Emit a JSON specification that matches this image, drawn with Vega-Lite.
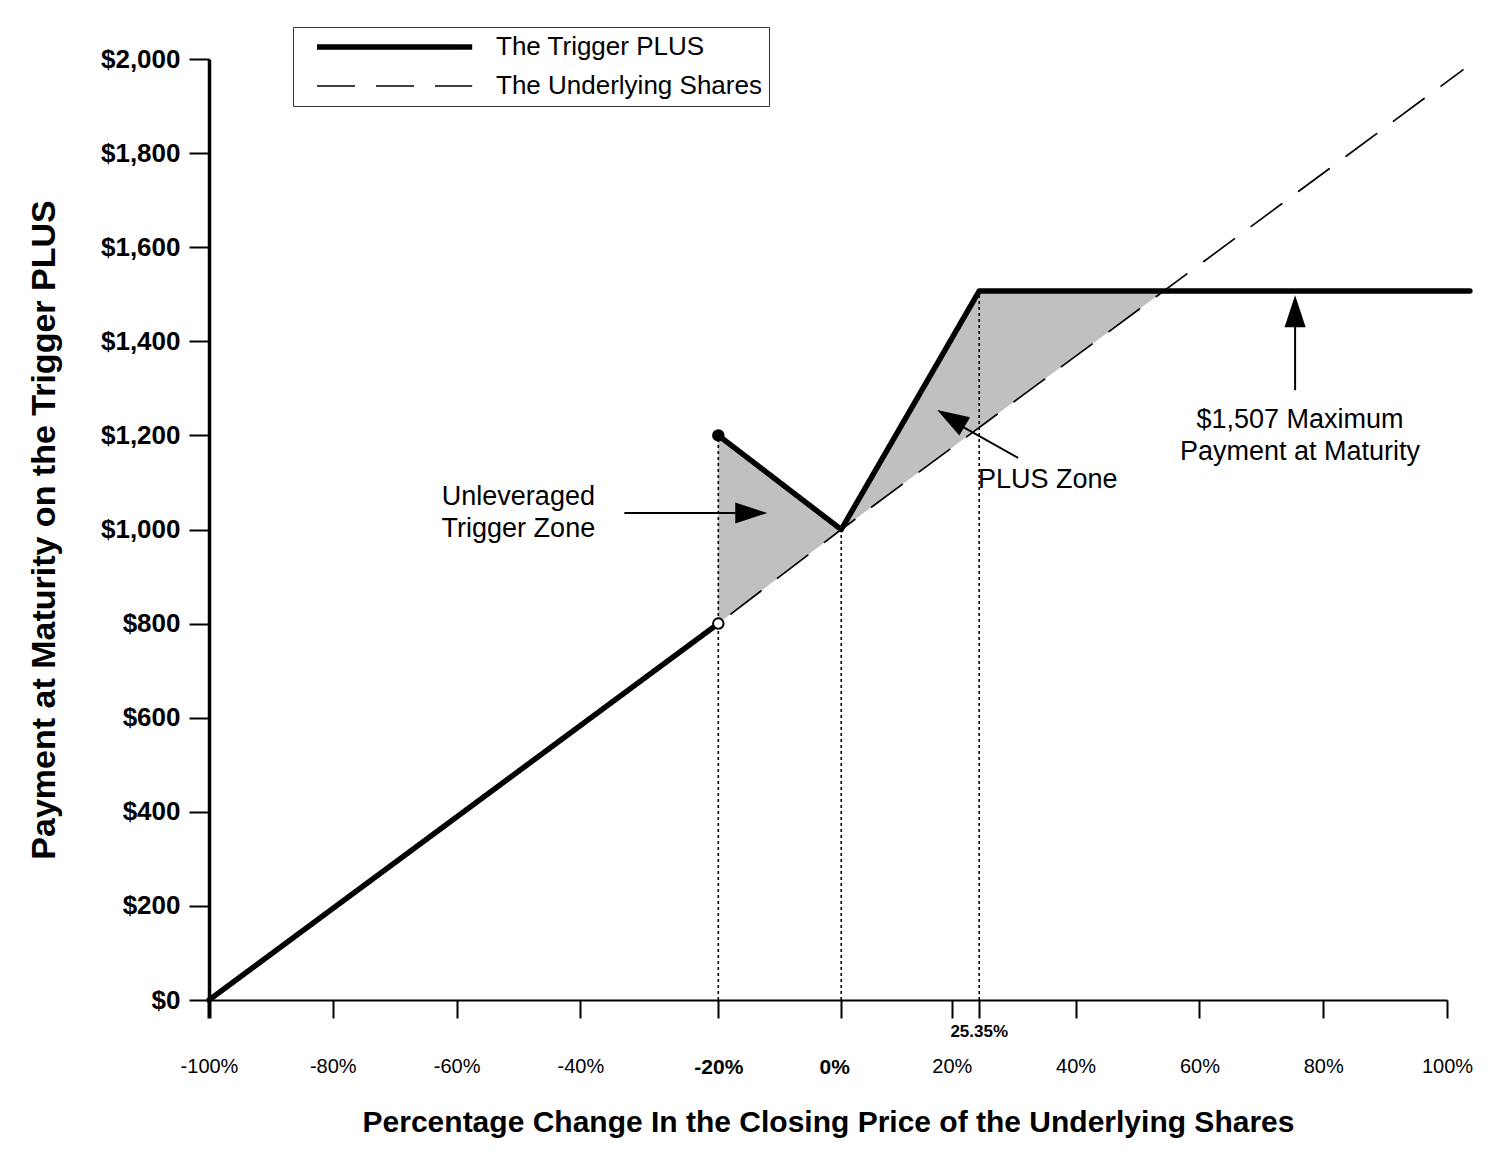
{
  "$schema": "https://vega.github.io/schema/vega-lite/v6.json",
  "width": 1238,
  "height": 941,
  "autosize": "none",
  "padding": {"left": 209, "top": 59, "right": 45, "bottom": 155},
  "background": "white",
  "config": {
    "font": "Liberation Sans",
    "view": {"stroke": null},
    "axis": {"grid": false, "domainColor": "black", "tickColor": "black", "labelColor": "black", "titleColor": "black"}
  },
  "datasets": {
    "zones": [
      {"zone": "Unleveraged Trigger Zone", "x": -17.72, "y": 800, "hi": 1200},
      {"zone": "Unleveraged Trigger Zone", "x": 2.14, "y": 1000, "hi": 1000},
      {"zone": "PLUS Zone", "x": 2.14, "y": 1000, "hi": 1000},
      {"zone": "PLUS Zone", "x": 24.43, "y": 1216.8, "hi": 1507},
      {"zone": "PLUS Zone", "x": 54.26, "y": 1507, "hi": 1507}
    ],
    "guides": [
      {"x": -17.72, "y": 0, "top": 1200},
      {"x": 2.14, "y": 0, "top": 1000},
      {"x": 24.43, "y": 0, "top": 1507}
    ],
    "payoff": [
      {"series": "The Underlying Shares", "seg": "u", "x": -100, "y": 0},
      {"series": "The Underlying Shares", "seg": "u", "x": -17.72, "y": 800},
      {"series": "The Underlying Shares", "seg": "u", "x": 2.14, "y": 1000},
      {"series": "The Underlying Shares", "seg": "u", "x": 102.58, "y": 1977},
      {"series": "The Trigger PLUS", "seg": "a", "x": -100, "y": 0},
      {"series": "The Trigger PLUS", "seg": "a", "x": -17.72, "y": 800},
      {"series": "The Trigger PLUS", "seg": "b", "x": -17.72, "y": 1200},
      {"series": "The Trigger PLUS", "seg": "b", "x": 2.14, "y": 1000},
      {"series": "The Trigger PLUS", "seg": "b", "x": 24.43, "y": 1507},
      {"series": "The Trigger PLUS", "seg": "b", "x": 103.7, "y": 1507}
    ],
    "dots": [
      {"x": -17.72, "y": 1200, "state": "closed"},
      {"x": -17.72, "y": 800, "state": "open"}
    ],
    "arrows": [
      {"note": "Unleveraged Trigger Zone", "x": -32.9, "y": 1035, "x2": -14.5, "y2": 1035},
      {"note": "PLUS Zone", "x": 30.72, "y": 1152, "x2": 21.5, "y2": 1220},
      {"note": "$1,507 Maximum", "x": 75.46, "y": 1296, "x2": 75.46, "y2": 1432}
    ],
    "heads": [
      {"note": "Unleveraged Trigger Zone", "x": -9.81, "y": 1035, "angle": 90},
      {"note": "PLUS Zone", "x": 17.64, "y": 1254, "angle": 300.65},
      {"note": "$1,507 Maximum", "x": 75.46, "y": 1498, "angle": 0}
    ],
    "notes": [
      {"text": "Unleveraged", "x": -50.02, "y": 1052},
      {"text": "Trigger Zone", "x": -50.02, "y": 984.7},
      {"text": "PLUS Zone", "x": 35.49, "y": 1088},
      {"text": "$1,507 Maximum", "x": 76.26, "y": 1215.7},
      {"text": "Payment at Maturity", "x": 76.26, "y": 1147.7}
    ],
    "cap": [
      {"text": "25.35%", "x": 24.43, "y": -67}
    ]
  },
  "encoding": {
    "x": {
      "field": "x",
      "type": "quantitative",
      "scale": {"domain": [-100, 100], "nice": false, "zero": false},
      "axis": {
        "title": "Percentage Change In the Closing Price of the Underlying Shares",
        "values": [-100, -80, -60, -40, -17.72, 2.14, 20, 24.43, 40, 60, 80, 100],
        "labelExpr": "datum.value == -17.72 ? '-20%' : datum.value == 2.14 ? '0%' : datum.value == 24.43 ? '' : datum.value + '%'",
        "tickSize": 18,
        "tickWidth": {"condition": {"test": "datum.value == -100", "value": 4}, "value": 2},
        "domainWidth": 2,
        "labelPadding": 38,
        "labelFontSize": {"condition": {"test": "datum.value == -17.72 || datum.value == 2.14", "value": 21}, "value": 20},
        "labelFontWeight": {"condition": {"test": "datum.value == -17.72 || datum.value == 2.14", "value": "bold"}, "value": "normal"},
        "labelOffset": {"condition": {"test": "datum.value == 2.14", "value": -7}, "value": 0},
        "labelFlush": false,
        "labelOverlap": false,
        "titleFontSize": 30,
        "titleFontWeight": "bold",
        "titlePadding": 30
      }
    },
    "y": {
      "field": "y",
      "type": "quantitative",
      "scale": {"domain": [0, 2000], "nice": false},
      "axis": {
        "title": "Payment at Maturity on the Trigger PLUS",
        "values": [0, 200, 400, 600, 800, 1000, 1200, 1400, 1600, 1800, 2000],
        "format": "$,.0f",
        "tickSize": 20,
        "tickWidth": 2,
        "domainWidth": 3.5,
        "labelFontSize": 26,
        "labelFontWeight": "bold",
        "labelPadding": 9,
        "labelFlush": false,
        "labelOverlap": false,
        "titleFontSize": 34,
        "titleFontWeight": "bold",
        "titlePadding": 39
      }
    }
  },
  "layer": [
    {
      "data": {"name": "zones"},
      "mark": {"type": "area", "color": "#c0c0c0", "opacity": 1},
      "encoding": {
        "y2": {"field": "hi"},
        "detail": {"field": "zone", "type": "nominal"}
      }
    },
    {
      "data": {"name": "guides"},
      "mark": {"type": "rule", "color": "black", "strokeWidth": 1.6, "strokeDash": [3, 3]},
      "encoding": {
        "y2": {"field": "top"}
      }
    },
    {
      "data": {"name": "payoff"},
      "mark": {"type": "line", "color": "black", "strokeCap": "round", "strokeJoin": "round"},
      "encoding": {
        "detail": {"field": "seg", "type": "nominal"},
        "strokeDash": {
          "field": "series",
          "type": "ordinal",
          "scale": {"domain": ["The Trigger PLUS", "The Underlying Shares"], "range": [[1, 0], [38, 21]]},
          "legend": {
            "title": null,
            "orient": "none",
            "legendX": 84,
            "legendY": -32,
            "direction": "vertical",
            "strokeColor": "#333333",
            "padding": 7,
            "symbolType": "M0.5,0H19.9",
            "symbolSize": 256,
            "symbolStrokeColor": "black",
            "symbolFillColor": "transparent",
            "labelFontSize": 26,
            "labelColor": "black",
            "labelOffset": 170,
            "rowPadding": 13,
            "labelLimit": 400
          }
        },
        "strokeWidth": {
          "field": "series",
          "type": "ordinal",
          "scale": {"domain": ["The Trigger PLUS", "The Underlying Shares"], "range": [5.5, 1.7]},
          "legend": {
            "title": null,
            "orient": "none",
            "legendX": 84,
            "legendY": -32,
            "direction": "vertical",
            "strokeColor": "#333333",
            "padding": 7,
            "symbolType": "M0.5,0H19.9",
            "symbolSize": 256,
            "symbolStrokeColor": "black",
            "symbolFillColor": "transparent",
            "labelFontSize": 26,
            "labelColor": "black",
            "labelOffset": 170,
            "rowPadding": 13,
            "labelLimit": 400
          }
        }
      }
    },
    {
      "data": {"name": "dots"},
      "mark": {"type": "point", "shape": "circle", "filled": true, "size": 110, "stroke": "black", "strokeWidth": 2, "opacity": 1},
      "encoding": {
        "fill": {"field": "state", "type": "nominal", "scale": {"domain": ["closed", "open"], "range": ["black", "white"]}, "legend": null}
      }
    },
    {
      "data": {"name": "arrows"},
      "mark": {"type": "rule", "color": "black", "strokeWidth": 2},
      "encoding": {
        "x2": {"field": "x2"},
        "y2": {"field": "y2"}
      }
    },
    {
      "data": {"name": "heads"},
      "mark": {"type": "point", "shape": "M0,0L0.33,1L-0.33,1Z", "filled": true, "color": "black", "size": 4096, "opacity": 1, "strokeWidth": 0},
      "encoding": {
        "angle": {"field": "angle", "type": "quantitative", "scale": null}
      }
    },
    {
      "data": {"name": "notes"},
      "mark": {"type": "text", "align": "center", "baseline": "alphabetic", "fontSize": 27, "color": "black"},
      "encoding": {
        "text": {"field": "text", "type": "nominal"}
      }
    },
    {
      "data": {"name": "cap"},
      "mark": {"type": "text", "align": "center", "baseline": "middle", "fontSize": 17, "fontWeight": "bold", "color": "black"},
      "encoding": {
        "text": {"field": "text", "type": "nominal"}
      }
    }
  ]
}
